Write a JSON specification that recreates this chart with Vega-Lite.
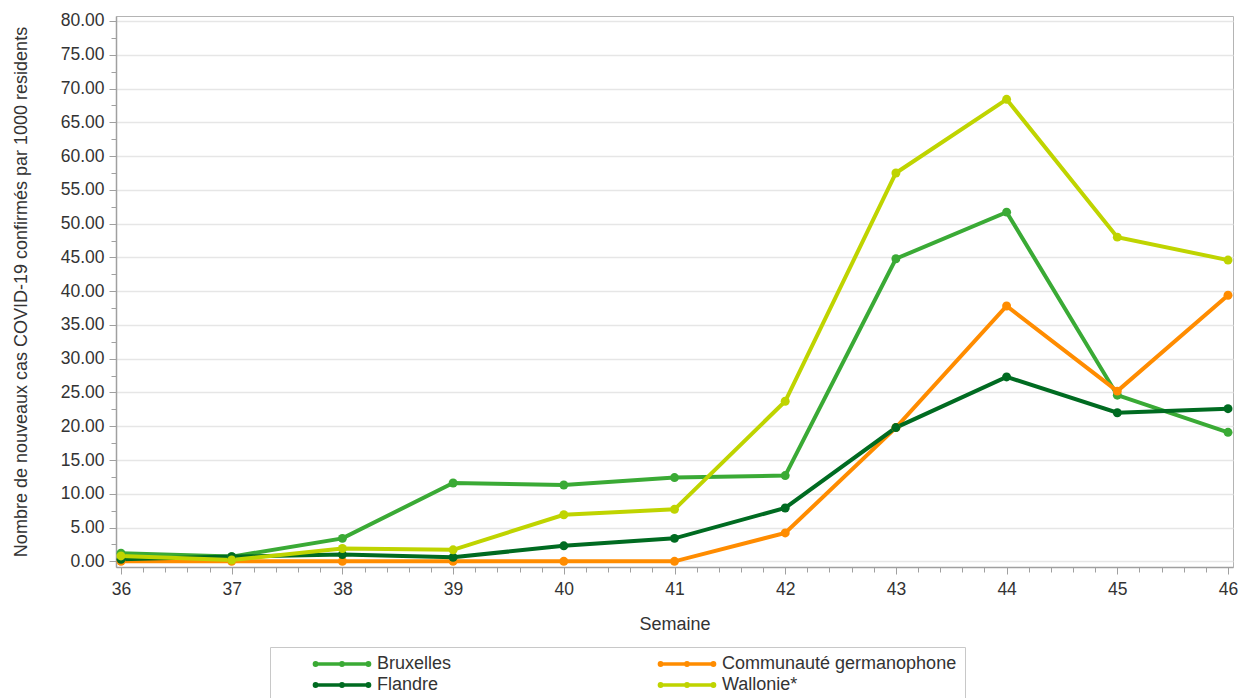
{
  "$schema": "https://vega.github.io/schema/vega-lite/v6.json",
  "width": 1117,
  "height": 551,
  "autosize": "none",
  "padding": {"left": 116, "top": 16, "right": 8, "bottom": 131},
  "background": "white",
  "config": {
    "font": "Liberation Sans",
    "view": {"stroke": "#b4b4b4", "strokeWidth": 1},
    "axis": {
      "labelFont": "Liberation Sans",
      "titleFont": "Liberation Sans",
      "labelFontSize": 17.5,
      "titleFontSize": 18,
      "labelColor": "#333333",
      "titleColor": "#333333",
      "titleFontWeight": "normal",
      "domainColor": "#a0a0a0",
      "tickColor": "#a0a0a0",
      "domainWidth": 1.5,
      "tickWidth": 1
    }
  },
  "data": {
    "values": [
      {"semaine": 36, "region": "Bruxelles", "value": 1.2},
      {"semaine": 37, "region": "Bruxelles", "value": 0.7},
      {"semaine": 38, "region": "Bruxelles", "value": 3.4},
      {"semaine": 39, "region": "Bruxelles", "value": 11.6},
      {"semaine": 40, "region": "Bruxelles", "value": 11.3},
      {"semaine": 41, "region": "Bruxelles", "value": 12.4},
      {"semaine": 42, "region": "Bruxelles", "value": 12.7},
      {"semaine": 43, "region": "Bruxelles", "value": 44.8},
      {"semaine": 44, "region": "Bruxelles", "value": 51.7},
      {"semaine": 45, "region": "Bruxelles", "value": 24.6},
      {"semaine": 46, "region": "Bruxelles", "value": 19.1},
      {"semaine": 36, "region": "Communauté germanophone", "value": 0.0},
      {"semaine": 37, "region": "Communauté germanophone", "value": 0.0},
      {"semaine": 38, "region": "Communauté germanophone", "value": 0.0},
      {"semaine": 39, "region": "Communauté germanophone", "value": 0.0},
      {"semaine": 40, "region": "Communauté germanophone", "value": 0.0},
      {"semaine": 41, "region": "Communauté germanophone", "value": 0.0},
      {"semaine": 42, "region": "Communauté germanophone", "value": 4.2},
      {"semaine": 43, "region": "Communauté germanophone", "value": 19.8},
      {"semaine": 44, "region": "Communauté germanophone", "value": 37.8},
      {"semaine": 45, "region": "Communauté germanophone", "value": 25.2},
      {"semaine": 46, "region": "Communauté germanophone", "value": 39.4},
      {"semaine": 36, "region": "Flandre", "value": 0.3},
      {"semaine": 37, "region": "Flandre", "value": 0.7},
      {"semaine": 38, "region": "Flandre", "value": 1.0},
      {"semaine": 39, "region": "Flandre", "value": 0.6},
      {"semaine": 40, "region": "Flandre", "value": 2.3},
      {"semaine": 41, "region": "Flandre", "value": 3.4},
      {"semaine": 42, "region": "Flandre", "value": 7.9},
      {"semaine": 43, "region": "Flandre", "value": 19.8},
      {"semaine": 44, "region": "Flandre", "value": 27.3},
      {"semaine": 45, "region": "Flandre", "value": 22.0},
      {"semaine": 46, "region": "Flandre", "value": 22.6},
      {"semaine": 36, "region": "Wallonie*", "value": 0.8},
      {"semaine": 37, "region": "Wallonie*", "value": 0.2},
      {"semaine": 38, "region": "Wallonie*", "value": 1.9},
      {"semaine": 39, "region": "Wallonie*", "value": 1.7},
      {"semaine": 40, "region": "Wallonie*", "value": 6.9},
      {"semaine": 41, "region": "Wallonie*", "value": 7.7},
      {"semaine": 42, "region": "Wallonie*", "value": 23.7},
      {"semaine": 43, "region": "Wallonie*", "value": 57.5},
      {"semaine": 44, "region": "Wallonie*", "value": 68.4},
      {"semaine": 45, "region": "Wallonie*", "value": 48.0},
      {"semaine": 46, "region": "Wallonie*", "value": 44.6}
    ]
  },
  "encoding": {
    "x": {
      "field": "semaine",
      "type": "quantitative",
      "scale": {"domain": [35.955, 46.045], "nice": false, "zero": false},
      "axis": {
        "title": "Semaine",
        "grid": false,
        "values": [36, 36.2, 36.4, 36.6, 36.8, 37, 37.2, 37.4, 37.6, 37.8, 38, 38.2, 38.4, 38.6, 38.8, 39, 39.2, 39.4, 39.6, 39.8, 40, 40.2, 40.4, 40.6, 40.8, 41, 41.2, 41.4, 41.6, 41.8, 42, 42.2, 42.4, 42.6, 42.8, 43, 43.2, 43.4, 43.6, 43.8, 44, 44.2, 44.4, 44.6, 44.8, 45, 45.2, 45.4, 45.6, 45.8, 46],
        "labelExpr": "abs(datum.value - round(datum.value)) < 0.01 ? format(datum.value, 'd') : ''",
        "tickSize": {"condition": {"test": "abs(datum.value - round(datum.value)) < 0.01", "value": 7}, "value": 5},
        "labelPadding": 6,
        "labelFlush": false,
        "labelOverlap": false,
        "titlePadding": 18
      }
    },
    "y": {
      "field": "value",
      "type": "quantitative",
      "scale": {"domain": [-0.84, 80.74], "nice": false, "zero": false},
      "axis": {
        "title": "Nombre de nouveaux cas COVID-19 confirmés par 1000 residents",
        "values": [0, 2.5, 5, 7.5, 10, 12.5, 15, 17.5, 20, 22.5, 25, 27.5, 30, 32.5, 35, 37.5, 40, 42.5, 45, 47.5, 50, 52.5, 55, 57.5, 60, 62.5, 65, 67.5, 70, 72.5, 75, 77.5, 80],
        "labelExpr": "datum.value % 5 === 0 ? format(datum.value, '.2f') : ''",
        "tickSize": {"condition": {"test": "datum.value % 5 === 0", "value": 7}, "value": 5},
        "gridOpacity": {"condition": {"test": "datum.value % 5 === 0", "value": 1}, "value": 0},
        "gridColor": "#e6e6e6",
        "gridWidth": 1.5,
        "labelPadding": 5,
        "labelFlush": false,
        "labelOverlap": false,
        "titlePadding": 30
      }
    },
    "color": {
      "field": "region",
      "type": "nominal",
      "scale": {
        "domain": ["Bruxelles", "Communauté germanophone", "Flandre", "Wallonie*"],
        "range": ["#3aaa35", "#ff8c00", "#006b21", "#bfd400"]
      },
      "legend": {
        "orient": "none",
        "legendX": 154,
        "legendY": 631,
        "direction": "horizontal",
        "columns": 2,
        "title": null,
        "padding": 8,
        "strokeColor": "#c8c8c8",
        "fillColor": "white",
        "labelFont": "Liberation Sans",
        "labelFontSize": 18,
        "labelColor": "#333333",
        "labelLimit": 400,
        "symbolType": "M-13.75,0H13.75M-13.2,0m-0.6,0a0.6,0.6 0 1,0 1.2,0a0.6,0.6 0 1,0 -1.2,0M0,0m-0.6,0a0.6,0.6 0 1,0 1.2,0a0.6,0.6 0 1,0 -1.2,0M13.2,0m-0.6,0a0.6,0.6 0 1,0 1.2,0a0.6,0.6 0 1,0 -1.2,0",
        "symbolSize": 16,
        "symbolStrokeWidth": 3.5,
        "symbolOffset": 55,
        "labelOffset": 26,
        "columnPadding": 171,
        "rowPadding": 3
      }
    },
    "order": {"field": "semaine"}
  },
  "layer": [
    {"mark": {"type": "line", "strokeWidth": 4}},
    {"mark": {"type": "circle", "size": 80, "opacity": 1}}
  ]
}
